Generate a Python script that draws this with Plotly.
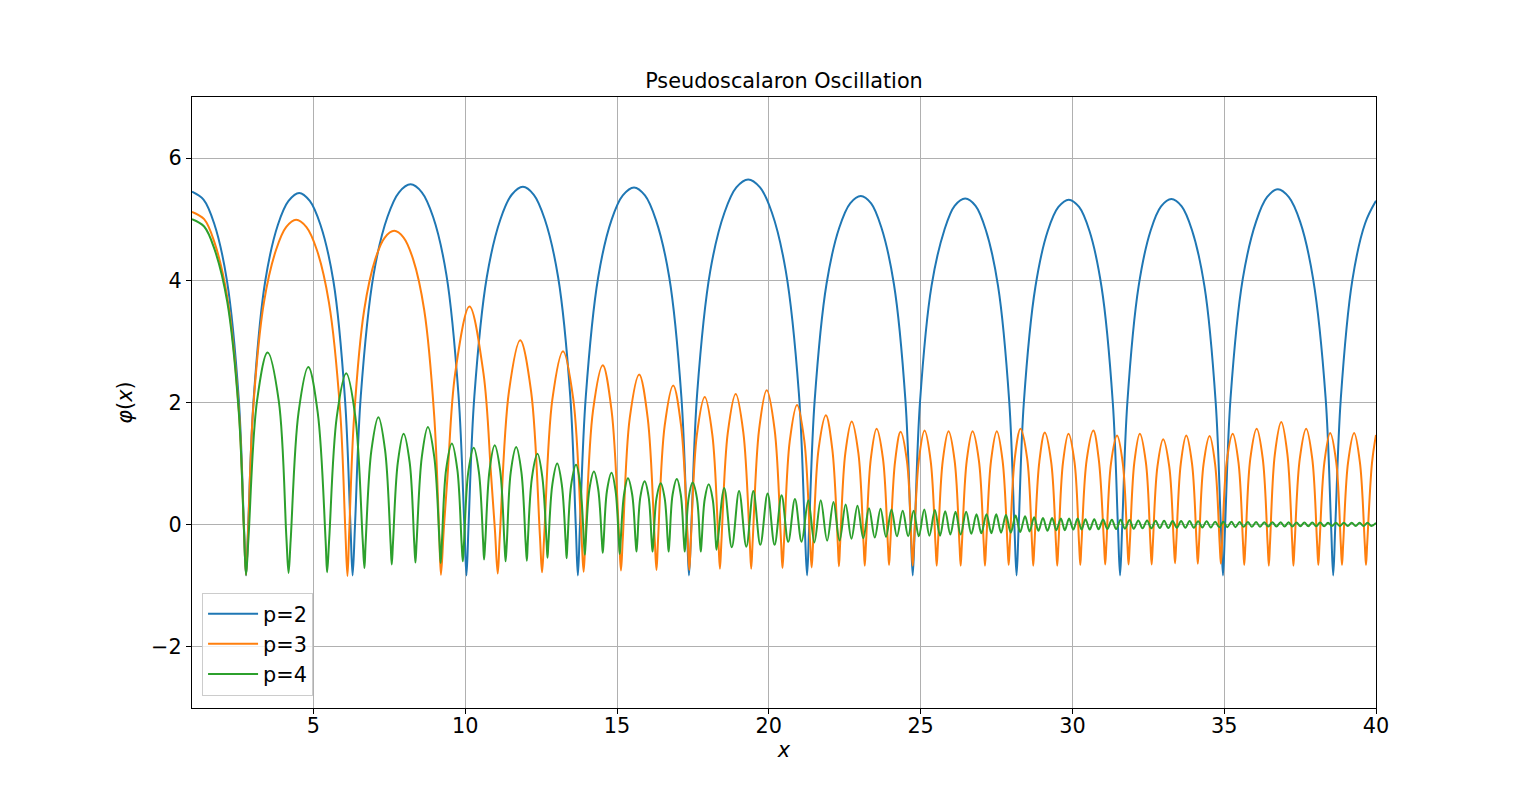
import plotly.graph_objects as go

# Values: troughs, peaks and a few shoulder points per arch

p2_points = [
    (1.0, 5.45), (1.38, 5.32), (1.73, 4.93), (2.15, 4.0), (2.54, 2.06), (2.71, -0.01), (2.78, -0.83),
    (2.85, -0.02), (3.03, 2.05), (3.41, 3.98), (3.83, 4.91), (4.18, 5.30), (4.53, 5.43),
    (4.88, 5.30), (5.23, 4.91), (5.66, 3.98), (6.04, 2.05), (6.22, -0.02), (6.29, -0.83),
    (6.37, 0.0), (6.56, 2.11), (6.98, 4.09), (7.44, 5.04), (7.82, 5.44), (8.20, 5.57),
    (8.57, 5.44), (8.94, 5.04), (9.38, 4.09), (9.78, 2.11), (9.97, 0.0), (10.04, -0.83),
    (10.11, 0.0), (10.30, 2.10), (10.71, 4.05), (11.16, 5.00), (11.53, 5.40), (11.90, 5.53),
    (12.26, 5.40), (12.62, 5.00), (13.06, 4.05), (13.46, 2.10), (13.64, 0.0), (13.71, -0.83),
    (13.78, 0.0), (13.97, 2.09), (14.38, 4.05), (14.82, 4.99), (15.19, 5.39), (15.56, 5.52),
    (15.92, 5.39), (16.28, 4.99), (16.72, 4.05), (17.12, 2.09), (17.30, 0.0), (17.37, -0.83),
    (17.45, 0.01), (17.64, 2.15), (18.07, 4.15), (18.54, 5.11), (18.93, 5.52), (19.32, 5.65),
    (19.71, 5.52), (20.10, 5.11), (20.56, 4.15), (20.99, 2.15), (21.18, 0.01), (21.26, -0.83),
    (21.33, -0.02), (21.51, 2.03), (21.90, 3.94), (22.32, 4.86), (22.68, 5.26), (23.03, 5.38),
    (23.37, 5.26), (23.71, 4.86), (24.12, 3.94), (24.50, 2.03), (24.67, -0.02), (24.74, -0.83),
    (24.81, -0.03), (24.98, 2.01), (25.36, 3.91), (25.78, 4.82), (26.12, 5.22), (26.47, 5.34),
    (26.81, 5.22), (27.15, 4.82), (27.55, 3.91), (27.92, 2.01), (28.09, -0.03), (28.16, -0.83),
    (28.23, -0.03), (28.40, 2.00), (28.78, 3.89), (29.19, 4.81), (29.54, 5.20), (29.88, 5.32),
    (30.22, 5.20), (30.56, 4.81), (30.96, 3.89), (31.33, 2.00), (31.50, -0.03), (31.57, -0.83),
    (31.64, -0.03), (31.81, 2.00), (32.18, 3.90), (32.58, 4.82), (32.92, 5.21), (33.26, 5.33),
    (33.60, 5.21), (33.94, 4.82), (34.35, 3.90), (34.72, 2.00), (34.89, -0.03), (34.96, -0.83),
    (35.03, -0.01), (35.21, 2.08), (35.61, 4.02), (36.05, 4.96), (36.41, 5.36), (36.77, 5.49),
    (37.13, 5.36), (37.50, 4.96), (37.93, 4.02), (38.34, 2.08), (38.52, -0.01), (38.59, -0.83),
    (38.66, -0.01), (38.84, 2.06), (39.22, 4.0), (39.64, 4.93), (40.0, 5.30),
]

p3_points = [
    (1.0, 5.12), (1.40, 5.00), (1.74, 4.62), (2.16, 3.73), (2.54, 1.90), (2.71, -0.06), (2.78, -0.82),
    (2.85, -0.08), (3.01, 1.86), (3.37, 3.64), (3.77, 4.50), (4.10, 4.87), (4.43, 4.99),
    (4.77, 4.87), (5.11, 4.50), (5.51, 3.64), (5.88, 1.86), (6.05, -0.08), (6.12, -0.84),
    (6.18, -0.10), (6.34, 1.77), (6.67, 3.51), (7.04, 4.35), (7.35, 4.70), (7.66, 4.81),
    (7.97, 4.70), (8.28, 4.35), (8.65, 3.51), (8.98, 1.77), (9.14, -0.10), (9.20, -0.82),
    (9.29, -0.10), (9.42, 0.82), (9.67, 2.48), (10.14, 3.57), (10.60, 2.48), (10.85, 0.82), (10.98, -0.10), (11.07, -0.80),
    (11.14, -0.18), (11.44, 2.18), (11.81, 3.02), (12.17, 2.18), (12.46, -0.18), (12.53, -0.78),
    (12.60, -0.20), (12.87, 2.05), (13.22, 2.84), (13.56, 2.05), (13.83, -0.20), (13.90, -0.77),
    (13.96, -0.22), (14.21, 1.87), (14.53, 2.61), (14.82, 1.87), (15.07, -0.22), (15.13, -0.75),
    (15.19, -0.23), (15.42, 1.75), (15.73, 2.46), (16.01, 1.75), (16.24, -0.23), (16.30, -0.74),
    (16.35, -0.26), (16.57, 1.62), (16.85, 2.28), (17.11, 1.62), (17.33, -0.26), (17.38, -0.74),
    (17.43, -0.28), (17.63, 1.47), (17.89, 2.09), (18.14, 1.47), (18.34, -0.28), (18.39, -0.72),
    (18.44, -0.26), (18.65, 1.51), (18.91, 2.14), (19.16, 1.51), (19.37, -0.26), (19.42, -0.72),
    (19.47, -0.25), (19.68, 1.56), (19.93, 2.20), (20.19, 1.56), (20.40, -0.25), (20.45, -0.71),
    (20.50, -0.28), (20.69, 1.37), (20.93, 1.96), (21.17, 1.37), (21.36, -0.28), (21.41, -0.70),
    (21.46, -0.29), (21.64, 1.24), (21.88, 1.79), (22.09, 1.24), (22.27, -0.29), (22.31, -0.68),
    (22.35, -0.30), (22.52, 1.17), (22.73, 1.69), (22.95, 1.17), (23.12, -0.30), (23.16, -0.67),
    (23.20, -0.31), (23.36, 1.08), (23.55, 1.57), (23.76, 1.08), (23.92, -0.31), (23.96, -0.66),
    (24.00, -0.32), (24.16, 1.04), (24.34, 1.52), (24.55, 1.04), (24.70, -0.32), (24.74, -0.67),
    (24.78, -0.32), (24.94, 1.05), (25.13, 1.54), (25.33, 1.05), (25.49, -0.32), (25.53, -0.67),
    (25.57, -0.32), (25.73, 1.05), (25.92, 1.53), (26.12, 1.05), (26.28, -0.32), (26.32, -0.67),
    (26.36, -0.32), (26.52, 1.05), (26.71, 1.53), (26.92, 1.05), (27.08, -0.32), (27.12, -0.67),
    (27.16, -0.31), (27.32, 1.05), (27.51, 1.53), (27.70, 1.05), (27.86, -0.31), (27.90, -0.66),
    (27.94, -0.31), (28.10, 1.08), (28.29, 1.57), (28.51, 1.08), (28.67, -0.31), (28.71, -0.67),
    (28.75, -0.32), (28.91, 1.03), (29.09, 1.51), (29.30, 1.03), (29.46, -0.32), (29.50, -0.67),
    (29.54, -0.32), (29.69, 1.02), (29.87, 1.49), (30.07, 1.02), (30.22, -0.32), (30.26, -0.66),
    (30.30, -0.30), (30.47, 1.06), (30.69, 1.54), (30.87, 1.06), (31.04, -0.30), (31.08, -0.65),
    (31.12, -0.31), (31.27, 1.00), (31.47, 1.46), (31.66, 1.00), (31.81, -0.31), (31.85, -0.65),
    (31.89, -0.31), (32.04, 1.02), (32.22, 1.49), (32.42, 1.02), (32.57, -0.31), (32.61, -0.65),
    (32.65, -0.31), (32.80, 0.95), (32.99, 1.40), (33.19, 0.95), (33.34, -0.31), (33.38, -0.63),
    (33.42, -0.30), (33.57, 1.00), (33.75, 1.46), (33.94, 1.00), (34.09, -0.30), (34.13, -0.64),
    (34.17, -0.31), (34.32, 0.99), (34.52, 1.45), (34.70, 0.99), (34.85, -0.31), (34.89, -0.64),
    (34.93, -0.31), (35.08, 1.02), (35.28, 1.49), (35.47, 1.02), (35.62, -0.31), (35.66, -0.66),
    (35.70, -0.31), (35.86, 1.08), (36.07, 1.57), (36.27, 1.08), (36.43, -0.31), (36.47, -0.67),
    (36.51, -0.29), (36.67, 1.16), (36.88, 1.68), (37.08, 1.16), (37.24, -0.29), (37.28, -0.67),
    (37.32, -0.31), (37.49, 1.08), (37.70, 1.57), (37.90, 1.08), (38.06, -0.31), (38.10, -0.66),
    (38.14, -0.31), (38.30, 1.02), (38.49, 1.50), (38.69, 1.02), (38.84, -0.31), (38.88, -0.66),
    (38.92, -0.31), (39.08, 1.02), (39.28, 1.50), (39.47, 1.02), (39.63, -0.31), (39.67, -0.66),
    (39.71, -0.31), (39.87, 1.02), (40.0, 1.47),
]

p4_points = [
    (1.0, 5.0), (1.40, 4.88), (1.74, 4.51), (2.16, 3.65), (2.54, 1.85), (2.71, -0.07), (2.78, -0.82),
    (2.86, -0.22), (3.14, 2.02), (3.49, 2.82), (3.86, 2.02), (4.11, -0.22), (4.18, -0.79),
    (4.25, -0.25), (4.51, 1.84), (4.83, 2.58), (5.14, 1.84), (5.40, -0.25), (5.45, -0.78),
    (5.52, -0.23), (5.77, 1.77), (6.08, 2.48), (6.38, 1.77), (6.62, -0.23), (6.68, -0.71),
    (6.72, -0.29), (6.91, 1.22), (7.14, 1.76), (7.36, 1.22), (7.54, -0.29), (7.58, -0.65),
    (7.62, -0.30), (7.78, 1.02), (7.97, 1.49), (8.17, 1.02), (8.32, -0.30), (8.36, -0.62),
    (8.40, -0.27), (8.57, 1.11), (8.77, 1.60), (8.98, 1.11), (9.15, -0.27), (9.19, -0.63),
    (9.23, -0.30), (9.37, 0.90), (9.56, 1.33), (9.74, 0.90), (9.88, -0.30), (9.92, -0.60),
    (9.96, -0.29), (10.10, 0.86), (10.28, 1.26), (10.45, 0.86), (10.59, -0.29), (10.62, -0.57),
    (10.66, -0.28), (10.80, 0.89), (10.97, 1.30), (11.15, 0.89), (11.29, -0.28), (11.33, -0.60),
    (11.37, -0.30), (11.50, 0.86), (11.68, 1.27), (11.85, 0.86), (11.99, -0.30), (12.03, -0.59),
    (12.06, -0.29), (12.20, 0.78), (12.38, 1.16), (12.54, 0.78), (12.68, -0.29), (12.71, -0.54),
    (12.74, -0.30), (12.87, 0.66), (13.03, 1.00), (13.18, 0.66), (13.31, -0.30), (13.34, -0.55),
    (13.37, -0.28), (13.49, 0.65), (13.65, 0.98), (13.79, 0.65), (13.91, -0.28), (13.94, -0.49),
    (13.97, -0.26), (14.09, 0.58), (14.24, 0.87), (14.38, 0.58), (14.50, -0.26), (14.53, -0.46),
    (14.56, -0.26), (14.67, 0.56), (14.82, 0.85), (14.95, 0.56), (15.06, -0.26), (15.09, -0.48),
    (15.12, -0.26), (15.23, 0.49), (15.36, 0.76), (15.50, 0.49), (15.61, -0.26), (15.64, -0.44),
    (15.67, -0.26), (15.77, 0.46), (15.91, 0.71), (16.04, 0.46), (16.14, -0.26), (16.17, -0.44),
    (16.20, -0.26), (16.30, 0.43), (16.44, 0.68), (16.57, 0.43), (16.67, -0.26), (16.70, -0.44),
    (16.73, -0.25), (16.83, 0.49), (16.97, 0.75), (17.10, 0.49), (17.20, -0.25), (17.23, -0.44),
    (17.26, -0.26), (17.36, 0.44), (17.49, 0.69), (17.63, 0.44), (17.73, -0.26), (17.76, -0.44),
    (17.79, -0.25), (17.89, 0.42), (18.02, 0.66), (18.15, 0.42), (18.25, -0.25), (18.28, -0.41),
    (18.53, 0.60), (18.78, -0.37), (19.02, 0.55), (19.26, -0.36), (19.49, 0.55), (19.72, -0.33),
    (19.96, 0.51), (20.19, -0.33), (20.42, 0.48), (20.64, -0.28), (20.86, 0.42), (21.08, -0.28),
    (21.30, 0.40), (21.50, -0.29), (21.71, 0.40), (21.92, -0.26), (22.13, 0.37), (22.33, -0.26),
    (22.53, 0.33), (22.72, -0.23), (22.92, 0.31), (23.11, -0.22), (23.30, 0.27), (23.49, -0.21),
    (23.68, 0.26), (23.86, -0.20), (24.04, 0.25), (24.22, -0.19), (24.41, 0.23), (24.59, -0.19),
    (24.77, 0.23), (24.94, -0.19), (25.12, 0.25), (25.29, -0.18), (25.47, 0.24), (25.64, -0.18),
    (25.81, 0.22), (25.98, -0.16), (26.15, 0.21), (26.32, -0.16), (26.50, 0.21), (26.67, -0.15),
    (26.84, 0.17), (27.00, -0.14), (27.17, 0.17), (27.33, -0.14), (27.49, 0.17), (27.65, -0.13),
    (27.81, 0.16), (27.97, -0.13), (28.13, 0.15), (28.28, -0.12), (28.44, 0.14), (28.59, -0.11),
    (28.74, 0.12), (28.88, -0.10), (29.03, 0.11), (29.18, -0.10), (29.33, 0.11), (29.47, -0.09),
    (29.62, 0.10), (29.75, -0.09), (29.89, 0.10), (30.03, -0.08), (30.17, 0.10), (30.30, -0.08),
    (30.43, 0.09), (30.57, -0.08), (30.72, 0.09), (30.86, -0.075), (31.01, 0.085), (31.15, -0.07),
    (31.30, 0.08), (31.44, -0.07), (31.59, 0.08), (31.73, -0.065), (31.88, 0.075), (32.02, -0.065),
    (32.17, 0.07), (32.31, -0.06), (32.46, 0.07), (32.60, -0.06), (32.74, 0.065), (32.88, -0.055),
    (33.02, 0.065), (33.16, -0.055), (33.30, 0.06), (33.44, -0.05), (33.58, 0.06), (33.72, -0.05),
    (33.86, 0.06), (34.00, -0.05), (34.14, 0.055), (34.28, -0.045), (34.42, 0.055), (34.56, -0.045),
    (34.70, 0.05), (34.84, -0.04), (34.97, 0.05), (35.10, -0.04), (35.24, 0.05), (35.37, -0.04),
    (35.51, 0.045), (35.64, -0.035), (35.78, 0.045), (35.91, -0.035), (36.05, 0.045), (36.18, -0.035),
    (36.32, 0.04), (36.45, -0.03), (36.59, 0.04), (36.72, -0.03), (36.86, 0.04), (36.99, -0.03),
    (37.12, 0.04), (37.25, -0.03), (37.38, 0.035), (37.51, -0.025), (37.64, 0.035), (37.77, -0.025),
    (37.90, 0.035), (38.03, -0.025), (38.16, 0.035), (38.29, -0.025), (38.42, 0.03), (38.55, -0.02),
    (38.68, 0.03), (38.81, -0.02), (38.94, 0.03), (39.07, -0.02), (39.20, 0.03), (39.33, -0.02),
    (39.46, 0.03), (39.59, -0.02), (39.72, 0.03), (39.85, -0.02), (40.0, 0.03),
]

series_names = ["p=2", "p=3", "p=4"]
series_colors = ["#1f77b4", "#ff7f0e", "#2ca02c"]
x_ticks = [5, 10, 15, 20, 25, 30, 35, 40]
y_ticks = [-2, 0, 2, 4, 6]
y_tick_text = ["\u22122", "0", "2", "4", "6"]

FONT = "DejaVu Sans"
FS = 20.8

fig = go.Figure()
for name, color, pts in zip(series_names, series_colors, [p2_points, p3_points, p4_points]):
    xs = [p[0] for p in pts]
    ys = [p[1] for p in pts]
    fig.add_trace(go.Scatter(x=xs, y=ys, mode="lines", name=name,
                             line=dict(color=color, width=2, shape="spline", smoothing=1.0)))

axis_style = dict(showline=True, mirror=True, linecolor="black", linewidth=1.1,
                  ticks="outside", ticklen=5, tickwidth=1.1, tickcolor="black",
                  showgrid=True, gridcolor="#b0b0b0", gridwidth=1, zeroline=False,
                  tickfont=dict(family=FONT, size=FS, color="black"))

fig.update_xaxes(range=[1, 40], tickvals=x_ticks, ticklabelstandoff=-6,
                 title=dict(text="<i>x</i>", font=dict(family=FONT, size=FS, color="black"), standoff=4),
                 **axis_style)
fig.update_yaxes(range=[-3, 7], tickvals=y_ticks, ticktext=y_tick_text,
                 title=dict(text="<i>φ</i>(<i>x</i>)", font=dict(family=FONT, size=FS, color="black"), standoff=12),
                 **axis_style)

# the page adds a small body margin, so the margins are shifted a few px
fig.update_layout(
    width=1528, height=794,
    margin=dict(l=184, r=160, t=89, b=94),
    paper_bgcolor="white", plot_bgcolor="white",
    font=dict(family=FONT, size=FS, color="black"),
    title=dict(text="Pseudoscalaron Oscillation", x=0.5, xref="paper", xanchor="center",
               y=1 - 73 / 794, yref="container", yanchor="middle",
               font=dict(family=FONT, size=FS, color="black")),
    legend=dict(x=0.0085, y=0.02, xanchor="left", yanchor="bottom", itemwidth=50,
                bgcolor="rgba(255,255,255,0.8)", bordercolor="#cccccc", borderwidth=1,
                font=dict(family=FONT, size=FS, color="black")),
    showlegend=True,
)

fig.write_html("out.html")
